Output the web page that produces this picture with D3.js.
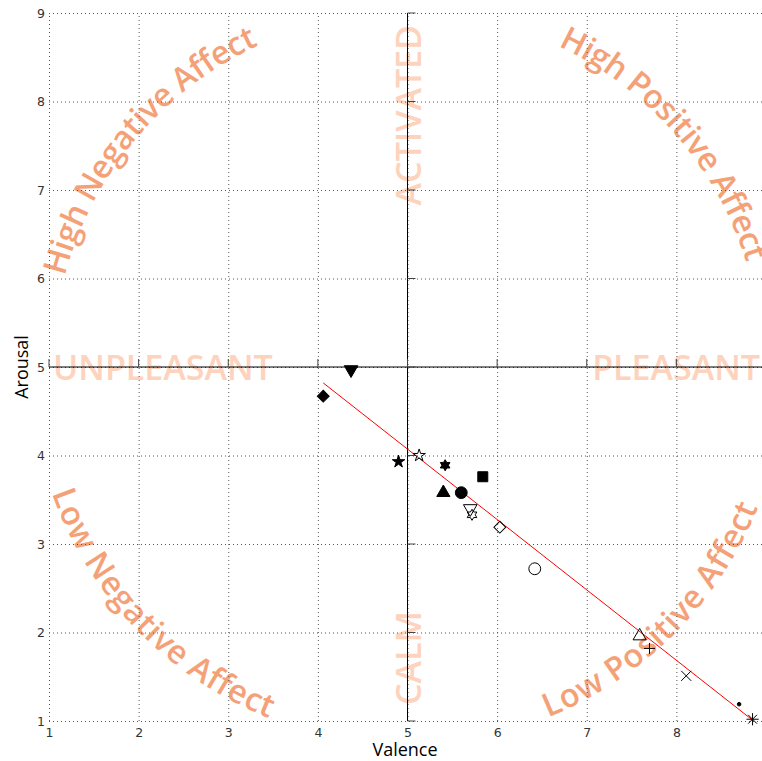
<!DOCTYPE html>
<html lang="en">
<head>
<meta charset="UTF-8">
<script src="https://d3js.org/d3.v7.min.js"></script>
<style>
    body {margin: 0; background: #fff;}
    svg {display: block;}
</style>
</head>
<body>
<svg class="chart"></svg>
<script>
// values
const valence = [4.06, 4.37, 4.90, 5.13, 5.42, 5.84, 5.40, 5.60, 5.70, 5.72, 6.03, 6.42, 7.59, 7.70, 8.11, 8.70, 8.85];
const arousal = [4.67, 4.97, 3.93, 4.00, 3.89, 3.76, 3.58, 3.58, 3.40, 3.33, 3.19, 2.72, 1.96, 1.82, 1.51, 1.19, 1.02];
const fitValence = [4.06, 8.85];
const fitArousal = [4.82, 1.01];
const tickValues = [1, 2, 3, 4, 5, 6, 7, 8, 9];
const quadrantLabels = ['High Negative Affect', 'High Positive Affect', 'Low Negative Affect', 'Low Positive Affect'];
const axisLabels = ['ACTIVATED', 'CALM', 'UNPLEASANT', 'PLEASANT'];

// marker look for each point, in the same order as the values
const markers = [
    ['diamond', true], ['triDown', true], ['star', true], ['star', false], ['hexagram', true],
    ['square', true], ['triUp', true], ['circle', true], ['triDown', false], ['hexagram', false],
    ['diamond', false], ['circle', false], ['triUp', false], ['plus', false], ['times', false],
    ['dot', true], ['asterisk', false]
];

const width = 762, height = 761;
const x = d3.scaleLinear().domain([1, 9]).range([49, 766]);
const y = d3.scaleLinear().domain([1, 9]).range([721, 13]);

const svg = d3.select('.chart').attr('width', width).attr('height', height);

// custom symbols
const hexagram = {
    draw(ctx, size) {
        let R = Math.sqrt(size) * 0.62, r = R / Math.sqrt(3);
        for (let i = 0; i < 12; i++) {
            let a = -Math.PI / 2 + i * Math.PI / 6, rad = i % 2 ? r : R;
            if (i === 0) ctx.moveTo(rad * Math.cos(a), rad * Math.sin(a));
            else ctx.lineTo(rad * Math.cos(a), rad * Math.sin(a));
        }
        ctx.closePath();
    }
};
const star8 = {
    draw(ctx, size) {
        let r = Math.sqrt(size) / 2, d = r * 0.72;
        ctx.moveTo(-r, 0); ctx.lineTo(r, 0);
        ctx.moveTo(0, -r); ctx.lineTo(0, r);
        ctx.moveTo(-d, -d); ctx.lineTo(d, d);
        ctx.moveTo(-d, d); ctx.lineTo(d, -d);
    }
};
const symbolFor = {
    diamond: [d3.symbolSquare, 70, 45],
    triDown: [d3.symbolTriangle, 80, 180],
    triUp: [d3.symbolTriangle, 75, 0],
    star: [d3.symbolStar, 48, 0],
    hexagram: [hexagram, 80, 0],
    square: [d3.symbolSquare, 100, 0],
    circle: [d3.symbolCircle, 110, 0],
    plus: [d3.symbolPlus, 42, 0],
    times: [d3.symbolTimes, 68, 0],
    dot: [d3.symbolCircle, 10, 0],
    asterisk: [star8, 150, 0]
};

// big background words
const cx = x(5), cy = y(5), R = 366;
const arcs = [
    [-140, false], [-41, false], [136, true], [45, true]
];
const defs = svg.append('defs');
arcs.forEach((a, i) => {
    let mid = a[0] * Math.PI / 180, half = 62 * Math.PI / 180;
    let p = d3.path();
    if (!a[1]) p.arc(cx, cy, R, mid - half, mid + half, false);
    else p.arc(cx, cy, R, mid + half, mid - half, true);
    defs.append('path').attr('id', 'arc' + i).attr('d', p.toString());
});

const words = svg.append('g').attr('font-family', '"Open Sans", sans-serif')
    .attr('font-size', 34).attr('font-weight', 600);
quadrantLabels.forEach((t, i) => {
    words.append('text').attr('fill', '#f5a178').attr('dy', '0.35em').attr('font-size', 32.5)
        .append('textPath').attr('href', '#arc' + i)
        .attr('startOffset', '50%').attr('text-anchor', 'middle').text(t);
});
words.append('text').attr('fill', '#fdd3bd').attr('text-anchor', 'end')
    .attr('dominant-baseline', 'central')
    .attr('transform', `translate(${cx},${y(9) + 12}) rotate(-90)`).text(axisLabels[0]);
words.append('text').attr('fill', '#fdd3bd').attr('text-anchor', 'start')
    .attr('dominant-baseline', 'central')
    .attr('transform', `translate(${cx},${y(1) - 16}) rotate(-90)`).text(axisLabels[1]);
words.append('text').attr('fill', '#fdd3bd').attr('text-anchor', 'start')
    .attr('dominant-baseline', 'central')
    .attr('x', x(1) + 4).attr('y', cy).text(axisLabels[2]);
words.append('text').attr('fill', '#fdd3bd').attr('text-anchor', 'end')
    .attr('dominant-baseline', 'central')
    .attr('x', x(9) - 6).attr('y', cy).text(axisLabels[3]);

// dotted grid with tick labels
const xAxis = svg.append('g').attr('transform', `translate(0,${y(1)})`)
    .call(d3.axisBottom(x).tickValues(tickValues).tickSize(-(y(1) - y(9))).tickPadding(7));
const yAxis = svg.append('g').attr('transform', `translate(${x(1)},0)`)
    .call(d3.axisLeft(y).tickValues(tickValues).tickSize(-(x(9) - x(1))).tickPadding(4));
[xAxis, yAxis].forEach(g => {
    g.select('.domain').remove();
    g.selectAll('.tick line').attr('stroke', '#555').attr('stroke-dasharray', '1,3');
    g.selectAll('.tick text').attr('fill', '#333').attr('font-size', 12.5)
        .attr('font-family', '"DejaVu Sans", sans-serif');
});

// crossing lines through the neutral point, with small stubs
svg.append('line').attr('x1', x(1)).attr('x2', x(9)).attr('y1', cy).attr('y2', cy)
    .attr('stroke', '#000').attr('stroke-width', 1);
svg.append('line').attr('x1', cx).attr('x2', cx).attr('y1', y(9)).attr('y2', y(1))
    .attr('stroke', '#000').attr('stroke-width', 1);
svg.append('g').selectAll('line').data(tickValues).join('line')
    .attr('x1', d => x(d)).attr('x2', d => x(d)).attr('y1', cy).attr('y2', cy - 8)
    .attr('stroke', '#444');
svg.append('g').selectAll('line').data(tickValues).join('line')
    .attr('x1', cx).attr('x2', cx + 8).attr('y1', d => y(d)).attr('y2', d => y(d))
    .attr('stroke', '#444');

// fitted line
svg.append('line')
    .attr('x1', x(fitValence[0])).attr('y1', y(fitArousal[0]))
    .attr('x2', x(fitValence[1])).attr('y2', y(fitArousal[1]))
    .attr('stroke', '#ff0000').attr('stroke-width', 1);

// points
svg.append('g').selectAll('path').data(valence).join('path')
    .attr('d', (d, i) => {
        let s = symbolFor[markers[i][0]];
        return d3.symbol().type(s[0]).size(s[1])();
    })
    .attr('transform', (d, i) => `translate(${x(d)},${y(arousal[i])}) rotate(${symbolFor[markers[i][0]][2]})`)
    .attr('fill', (d, i) => markers[i][1] ? '#000' : 'none')
    .attr('stroke', '#000').attr('stroke-width', 1);

// axis titles
svg.append('text').attr('x', 405).attr('y', 756).attr('text-anchor', 'middle')
    .attr('font-family', '"Open Sans", sans-serif').attr('font-size', 18).text('Valence');
svg.append('text').attr('transform', 'translate(28,367) rotate(-90)').attr('text-anchor', 'middle')
    .attr('font-family', '"Open Sans", sans-serif').attr('font-size', 18).text('Arousal');
</script>
</body>
</html>
